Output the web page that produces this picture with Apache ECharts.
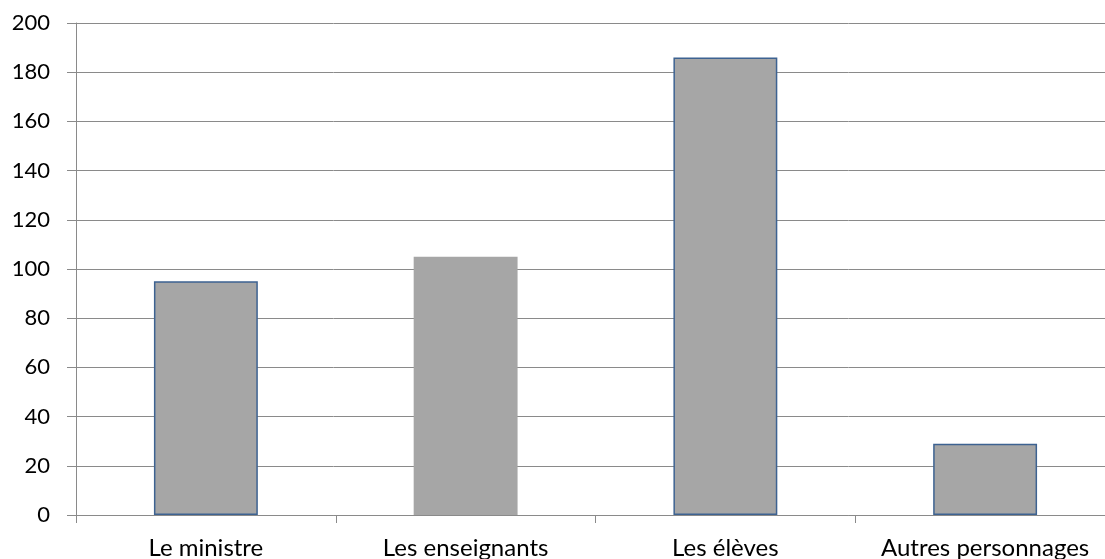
<!DOCTYPE html>
<html>
<head>
<meta charset="utf-8">
<script src="https://cdn.jsdelivr.net/npm/echarts@6/dist/echarts.min.js"></script>
<style>html,body{margin:0;padding:0;background:#fff}#c{width:1105px;height:559px}</style>
</head>
<body>
<div id="c"></div>
<script>
const categories = ['Le ministre', 'Les enseignants', 'Les élèves', 'Autres personnages'];
const values = [95, 105, 186, 29];
const bordered = [true, false, true, true];

const chart = echarts.init(document.getElementById('c'), null, {renderer: 'canvas'});
const gridColor = '#8a8a8a';
chart.setOption({
  animation: false,
  backgroundColor: '#ffffff',
  grid: {left: 76, width: 1039, top: 23, height: 492, containLabel: false, outerBoundsMode: 'none'},
  xAxis: {
    type: 'category',
    data: categories,
    boundaryGap: true,
    axisLine: {show: true, lineStyle: {color: gridColor, width: 1}},
    axisTick: {show: true, length: 8, alignWithLabel: false, lineStyle: {color: gridColor}},
    axisLabel: {color: '#000', fontFamily: 'Lato', fontSize: 24, margin: 21, interval: 0}
  },
  yAxis: {
    type: 'value',
    min: 0, max: 200, interval: 20,
    axisLine: {show: true, lineStyle: {color: gridColor, width: 1}},
    axisTick: {show: true, length: 9, lineStyle: {color: gridColor}},
    splitLine: {show: true, lineStyle: {color: gridColor, width: 1}},
    axisLabel: {color: '#000', fontFamily: 'Lato', fontSize: 22, margin: 26}
  },
  series: [{
    type: 'bar',
    barWidth: '40%',
    data: values.map((v, i) => ({
      value: v,
      itemStyle: {
        color: '#a6a6a6',
        borderColor: bordered[i] ? '#3d6291' : '#a6a6a6',
        borderWidth: bordered[i] ? 1.5 : 0
      }
    }))
  }]
});
</script>
</body>
</html>
